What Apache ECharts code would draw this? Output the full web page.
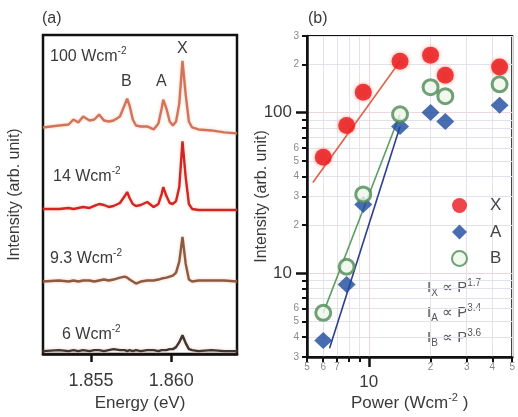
<!DOCTYPE html>
<html><head><meta charset="utf-8">
<script src="https://cdn.jsdelivr.net/npm/echarts@6/dist/echarts.min.js"></script>
<style>html,body{margin:0;padding:0;background:#fff}#c{width:518px;height:417px}</style>
</head><body><div id="c"></div>
<script>
// ---------- panel (a) data ----------
const energy = [1.8520,1.8530,1.8536,1.8539,1.8542,1.8545,1.8549,1.8552,1.8555,1.8558,1.8561,1.8564,1.8568,1.8571,1.85725,1.8574,1.8576,1.8578,1.8581,1.8585,1.8589,1.8592,1.8594,1.8595,1.8597,1.8599,1.8601,1.8603,1.8605,1.8607,1.8609,1.8611,1.8613,1.8617,1.8625,1.8633,1.8641];
const spec100 = [0,2,3,8,5,11,7,8,13,7,6,7,11,23,29,22,8,2,1,1,-2,4,19,28,19,6,2,6,24,67,33,6,0,-2,-3,-5,-6];
const spec14  = [0,0,1,0,1,2,1,3,5,4,2,3,6,13,17,11,5,3,4,7,2,5,15,22,13,6,5,8,22,68,32,5,0,-1,-1,-1,-1];
const spec93  = [0,1,0,1,0,1,1,0,1,2,1,2,4,5,4,2,0,-2,0,1,1,2,3,4,4,5,6,9,20,45,18,2,0,1,1,1,0];
const spec6   = [0,1,0,1,0,1,0,1,1,0,1,2,1,1,0,1,0,1,0,1,1,0,1,0,1,2,2,4,9,16,8,2,1,0,1,0,0];
const offsets = [228,146,73,3];
const specNames = ['100 Wcm','14 Wcm','9.3 Wcm','6 Wcm'];
const specColors = ['#d2745a','#d42424','#8c5a42','#3c3838'];
const energyTicks = [1.855,1.860];

// ---------- panel (b) data ----------
const power = [6.0,7.8,9.4,14.2,20.0,23.6,43.4];
const intX = [52.6,83,134,209,228,171,192];
const intA = [3.8,8.5,26.7,82,100,88,111];
const intB = [5.65,10.95,30.9,97.6,144,126.5,150];
const fitXP = [5.34,14.2], fitXI = [36.7,209];
const fitAP = [6.44,14.2], fitAI = [3.4,82];
const fitBP = [6.0,14.2],  fitBI = [5.65,97.6];
const powerMinorTicks = [5,6,7,8,9,20,30,40,50];
const powerMinorLabels = [5,6,7,20,30,40,50];
const powerMajor = [10];
const intMinorTicks = [3,4,5,6,7,8,9,20,30,40,50,60,70,80,90,200,300];
const intMinorLabels = [3,4,5,6,20,30,40,50,60,200,300];
const intMajor = [10,100];

const FF = "'Liberation Sans', Arial, sans-serif";
const TC = '#3a3a3a';
const pairs = (xs, ys) => xs.map((x,i)=>[x, ys[i]]);

const specs = [spec100, spec14, spec93, spec6];
const specSeries = specs.map((s,k)=>({
  type:'line', xAxisIndex:0, yAxisIndex:0, showSymbol:false, symbol:'none',
  data: energy.map((e,i)=>[e, s[i]+offsets[k]]),
  lineStyle:{color:specColors[k], width:2.4, shadowBlur:3, shadowColor:'rgba(240,150,110,0.5)'},
  silent:true, animation:false
}));

const fitLine = (xs, ys, color) => ({
  type:'line', xAxisIndex:1, yAxisIndex:1, symbol:'none', data:pairs(xs,ys),
  lineStyle:{color, width:1.6}, z:1, silent:true, animation:false
});

const option = {
  animation:false,
  textStyle:{fontFamily:FF},
  grid:[
    {left:43, top:35, width:194, height:321, show:true, borderColor:'#111', borderWidth:2.5},
    {left:307, top:36, width:207, height:321, show:true, borderColor:'#111', borderWidth:2}
  ],
  legend:{
    data:['X','A','B'], orient:'vertical', left:446, top:192,
    itemWidth:15, itemHeight:15, itemGap:9.5,
    textStyle:{fontSize:17, color:'#444', fontFamily:FF, padding:[0,0,0,18]}
  },
  xAxis:[
    {type:'value', gridIndex:0, position:'bottom', min:1.852, max:1.8641,
     axisLine:{show:true, lineStyle:{color:'#111', width:2.5}},
     axisTick:{show:true, customValues:energyTicks, length:8, lineStyle:{color:'#111', width:2.5}},
     axisLabel:{customValues:energyTicks, formatter:v=>v.toFixed(3), fontSize:18, color:TC, margin:18},
     splitLine:{show:false},
     name:'Energy (eV)', nameLocation:'middle', nameGap:36,
     nameTextStyle:{fontSize:17, color:TC}},
    {type:'log', gridIndex:1, position:'bottom', offset:0, min:5, max:50, logBase:10,
     axisLine:{show:true, lineStyle:{color:'#111', width:2.5}},
     axisTick:{show:true, customValues:powerMinorTicks, length:5, lineStyle:{color:'#111', width:2}},
     axisLabel:{customValues:powerMinorLabels, formatter:v=>String(v)[0], fontSize:10, color:'#888', margin:5},
     splitLine:{show:true, lineStyle:{color:'#e2e2ea', width:1}},
     name:'{n|Power (Wcm}{s|-2}{n| )}', nameLocation:'middle', nameGap:35,
     nameTextStyle:{fontSize:17, color:TC, rich:{n:{fontSize:17, color:TC, fontFamily:FF, lineHeight:22}, s:{fontSize:11, color:TC, fontFamily:FF, verticalAlign:'top', lineHeight:12}}}},
    {type:'log', gridIndex:1, position:'bottom', offset:0, min:5, max:50, logBase:10,
     axisLine:{show:false},
     axisTick:{show:true, customValues:powerMajor, length:10, lineStyle:{color:'#111', width:2.5}},
     axisLabel:{customValues:powerMajor, fontSize:17, color:TC, margin:17},
     splitLine:{show:true, lineStyle:{color:'#ecd8dc', width:1}}}
  ],
  yAxis:[
    {type:'value', gridIndex:0, position:'left', min:0, max:321,
     axisLine:{show:false}, axisTick:{show:false}, axisLabel:{show:false}, splitLine:{show:false},
     name:'Intensity (arb. unit)', nameLocation:'middle', nameGap:20,
     nameTextStyle:{fontSize:16, color:TC}},
    {type:'log', gridIndex:1, position:'left', offset:0, min:3, max:300, logBase:10,
     axisLine:{show:true, lineStyle:{color:'#111', width:2.5}},
     axisTick:{show:true, customValues:intMinorTicks, length:5, lineStyle:{color:'#111', width:2}},
     axisLabel:{customValues:intMinorLabels, formatter:v=>String(v)[0], fontSize:10, color:'#888', margin:8},
     splitLine:{show:true, lineStyle:{color:'#e2e2ea', width:1}},
     name:'Intensity (arb. unit)', nameLocation:'middle', nameGap:37,
     nameTextStyle:{fontSize:16, color:TC}},
    {type:'log', gridIndex:1, position:'left', offset:0, min:3, max:300, logBase:10,
     axisLine:{show:false},
     axisTick:{show:true, customValues:intMajor, length:11, lineStyle:{color:'#111', width:2.5}},
     axisLabel:{customValues:intMajor, fontSize:17, color:TC, margin:15},
     splitLine:{show:true, lineStyle:{color:'#ecd8dc', width:1}}}
  ],
  graphic:[
    {type:'text', left:42, top:11, style:{text:'(a)', fontSize:16, fill:TC, fontFamily:FF}},
    {type:'text', left:308, top:11, style:{text:'(b)', fontSize:16, fill:TC, fontFamily:FF}},
    ...specNames.map((n,k)=>({type:'text', left:[50,53,50,62][k], top:[46,166,248,324][k],
      style:{text:'{t|'+n+'}{s|-2}', fontFamily:FF,
        rich:{t:{fontSize:16, fill:TC, fontFamily:FF, lineHeight:22}, s:{fontSize:10, fill:TC, fontFamily:FF, verticalAlign:'top', lineHeight:12}}}})),
    {type:'text', left:177, top:41, style:{text:'X', fontSize:16, fill:TC, fontFamily:FF}},
    {type:'text', left:121, top:74, style:{text:'B', fontSize:16, fill:TC, fontFamily:FF}},
    {type:'text', left:156, top:74, style:{text:'A', fontSize:16, fill:TC, fontFamily:FF}},
    ...[['X','1.7'],['A','3.4'],['B','3.6']].map((p,k)=>({type:'text', left:427, top:[278,303,328][k],
      style:{text:'{i|I}{b|'+p[0]+'}{t| \u221D P}{s|'+p[1]+'}', fontFamily:FF,
        rich:{i:{fontSize:15, fill:'#555', fontFamily:FF, lineHeight:20},
              b:{fontSize:10, fill:'#555', fontFamily:FF, lineHeight:17, verticalAlign:'bottom'},
              t:{fontSize:15, fill:'#555', fontFamily:FF, lineHeight:20},
              s:{fontSize:10, fill:'#555', fontFamily:FF, lineHeight:14, verticalAlign:'top'}}}}))
  ],
  series:[
    ...specSeries,
    fitLine(fitXP, fitXI, '#d9634c'),
    fitLine(fitAP, fitAI, '#2b3f8c'),
    fitLine(fitBP, fitBI, '#5e9e62'),
    {name:'X', type:'scatter', xAxisIndex:1, yAxisIndex:1, data:pairs(power,intX), symbol:'circle', symbolSize:17,
     itemStyle:{color:'#e8161c', shadowBlur:4, shadowColor:'rgba(255,120,90,0.8)'}, z:3},
    {name:'A', type:'scatter', xAxisIndex:1, yAxisIndex:1, data:pairs(power,intA), symbol:'diamond', symbolSize:[18,17],
     itemStyle:{color:'#1a4a9e'}, z:3},
    {name:'B', type:'scatter', xAxisIndex:1, yAxisIndex:1, data:pairs(power,intB), symbol:'circle', symbolSize:15,
     itemStyle:{color:'#eef8ea', borderColor:'#4e8a55', borderWidth:3}, z:4}
  ]
};
const chart = echarts.init(document.getElementById('c'), null, {renderer:'canvas'});
chart.setOption(option);
</script></body></html>
